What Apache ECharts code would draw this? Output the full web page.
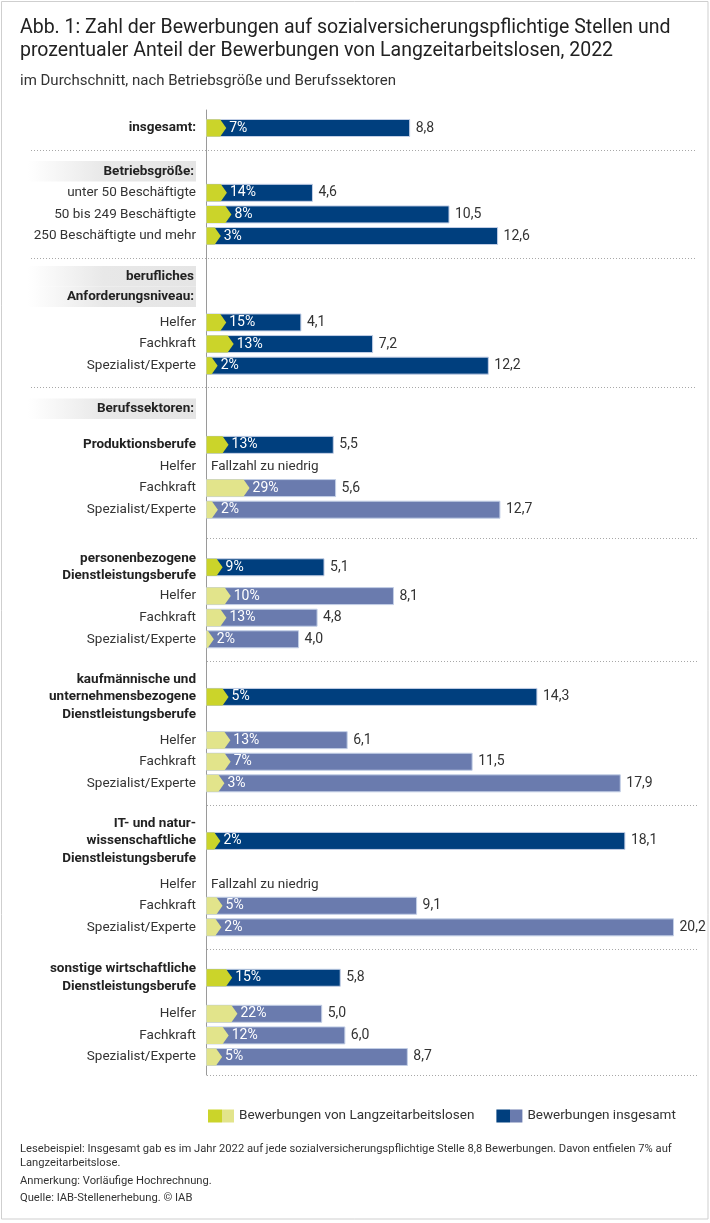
<!DOCTYPE html>
<html><head><meta charset="utf-8">
<script src="https://cdn.jsdelivr.net/npm/echarts@6/dist/echarts.min.js"></script>
<style>html,body{margin:0;padding:0;background:#fff}#c{width:710px;height:1223px}</style>
</head><body><div id="c"></div>
<script>
// ================= DATA =================
const titleLines = [
  'Abb. 1: Zahl der Bewerbungen auf sozialversicherungspflichtige Stellen und',
  'prozentualer Anteil der Bewerbungen von Langzeitarbeitslosen, 2022'
];
const subtitle = 'im Durchschnitt, nach Betriebsgröße und Berufssektoren';

const labelTotal = 'insgesamt:';
const totalAll = 8.8;
const shareAll = 7;

const headerLabels = ['Betriebsgröße:', 'berufliches\nAnforderungsniveau:', 'Berufssektoren:'];

const sizeLabels = ['unter 50 Beschäftigte', '50 bis 249 Beschäftigte', '250 Beschäftigte und mehr'];
const sizeTotals = [4.6, 10.5, 12.6];
const sizeShares = [14, 8, 3];

const levelLabels = ['Helfer', 'Fachkraft', 'Spezialist/Experte'];
const levelTotals = [4.1, 7.2, 12.2];
const levelShares = [15, 13, 2];

const sectorLabels = [
  'Produktionsberufe',
  'personenbezogene\nDienstleistungsberufe',
  'kaufmännische und\nunternehmensbezogene\nDienstleistungsberufe',
  'IT- und natur-\nwissenschaftliche\nDienstleistungsberufe',
  'sonstige wirtschaftliche\nDienstleistungsberufe'
];
const sectorTotals = [5.5, 5.1, 14.3, 18.1, 5.8];
const sectorShares = [13, 9, 5, 2, 15];
const helferTotals = [null, 8.1, 6.1, null, 5.0];
const helferShares = [null, 10, 13, null, 22];
const fachTotals = [5.6, 4.8, 11.5, 9.1, 6.0];
const fachShares = [29, 13, 7, 5, 12];
const spezTotals = [12.7, 4.0, 17.9, 20.2, 8.7];
const spezShares = [2, 2, 3, 2, 5];

const seriesNames = ['Bewerbungen von Langzeitarbeitslosen', 'Bewerbungen insgesamt'];
const noDataText = 'Fallzahl zu niedrig';
const footnotes = [
  'Lesebeispiel: Insgesamt gab es im Jahr 2022 auf jede sozialversicherungspflichtige Stelle 8,8 Bewerbungen. Davon entfielen 7% auf',
  'Langzeitarbeitslose.',
  'Anmerkung: Vorläufige Hochrechnung.',
  'Quelle: IAB-Stellenerhebung. © IAB'
];

// ================= LAYOUT (row slots on the category axis) =================
const SLOTS = 134;
const slotTotal = 2;
const slotHeaders = [8, 24, 41];
const slotSizes = [11, 14, 17];
const slotLevels = [29, 32, 35];
const slotSectors = [46, 63, 81, 101, 120];
const slotSubs = [[49, 52, 55], [67, 70, 73], [87, 90, 93], [107, 110, 113], [125, 128, 131]];
const slotSepFull = [5, 20, 38];
const slotSepPlot = [59, 76, 96, 116];

const FONT = 'Roboto, "Noto Sans", sans-serif';
const DARK_BLUE = '#003f7e';
const LIGHT_BLUE = '#6a7bae';
const DARK_GREEN = '#cbd42a';
const LIGHT_GREEN = '#e2e48b';
const BAR_H = 17;
const TIP = 6;

// ================= BUILD =================
const catKeys = [];
const catLabels = [];
for (let i = 0; i < SLOTS; i++) { catKeys.push('c' + i); catLabels.push(''); }
const rich = (text, st) => text.split('\n').map(l => '{' + st + '|' + l + '}').join('\n');

const barRows = [];
function addRow(slot, label, style, v, p, dark) {
  catLabels[slot] = rich(label, style);
  barRows.push({ slot, v, p, dark });
}
addRow(slotTotal, labelTotal, 'b', totalAll, shareAll, true);
headerLabels.forEach((h, i) => { catLabels[slotHeaders[i]] = rich(h, 'h'); });
sizeLabels.forEach((l, i) => addRow(slotSizes[i], l, 'n', sizeTotals[i], sizeShares[i], true));
levelLabels.forEach((l, i) => addRow(slotLevels[i], l, 'n', levelTotals[i], levelShares[i], true));
const subT = [helferTotals, fachTotals, spezTotals];
const subS = [helferShares, fachShares, spezShares];
sectorLabels.forEach((l, s) => {
  addRow(slotSectors[s], l, 'b', sectorTotals[s], sectorShares[s], true);
  levelLabels.forEach((ll, k) => addRow(slotSubs[s][k], ll, 'n', subT[k][s], subS[k][s], false));
});
const greenRows = barRows.filter(r => r.v != null);

const sepItems = slotSepFull.map(s => [0, s, 0])
  .concat(slotSepPlot.map(s => [0, s, 1]))
  .concat([[0, SLOTS - 1, 2]]);

const fmt = v => v.toFixed(1).replace('.', ',');

const chart = echarts.init(document.getElementById('c'), null, { renderer: 'canvas' });
const headerBg = {
  type: 'linear', x: 0, y: 0, x2: 1, y2: 0,
  colorStops: [{ offset: 0, color: 'rgba(255,255,255,1)' }, { offset: 0.45, color: '#e8e8e8' }, { offset: 1, color: '#e5e5e5' }]
};
const half = (a, b) => ({
  type: 'linear', x: 0, y: 0, x2: 1, y2: 0,
  colorStops: [{ offset: 0, color: a }, { offset: 0.52, color: a }, { offset: 0.52, color: b }, { offset: 1, color: b }]
});
const txt = (text, y, size, fill) => ({ type: 'text', silent: true,
  style: { text, x: 20, y, fontSize: size, fill, fontFamily: FONT, verticalAlign: 'middle', align: 'left' } });

chart.setOption({
  animation: false,
  textStyle: { fontFamily: FONT },
  grid: { left: 206, top: 110, width: 486, height: 965 },
  xAxis: { type: 'value', min: 0, max: 21, show: false },
  yAxis: {
    type: 'category', inverse: true, data: catKeys,
    axisLine: { show: true, lineStyle: { color: '#9a9a9a', width: 1 } },
    axisTick: { show: false }, splitLine: { show: false },
    axisLabel: {
      interval: 0, margin: 10,
      formatter: (v, i) => catLabels[i],
      rich: {
        n: { fontSize: 13.5, color: '#333', fontFamily: FONT, lineHeight: 17 },
        b: { fontSize: 13.5, color: '#222', fontWeight: 'bold', fontFamily: FONT, lineHeight: 17.5 },
        h: { fontSize: 13.5, color: '#222', fontWeight: 'bold', fontFamily: FONT, lineHeight: 20.5, height: 20.5,
             width: 166, align: 'right', padding: [0, 2, 0, 0], backgroundColor: headerBg }
      }
    }
  },
  legend: {
    left: 203, top: 1104, itemWidth: 26, itemHeight: 13, itemGap: 22, icon: 'rect',
    selectedMode: false,
    textStyle: { fontSize: 13.5, color: '#333', fontFamily: FONT },
    data: [
      { name: seriesNames[0], itemStyle: { color: half(DARK_GREEN, LIGHT_GREEN) } },
      { name: seriesNames[1], itemStyle: { color: half(DARK_BLUE, LIGHT_BLUE) } }
    ]
  },
  graphic: [
    { type: 'rect', silent: true, shape: { x: 1.5, y: 1.5, width: 706.5, height: 1217.5 }, style: { fill: null, stroke: '#cfcfcf', lineWidth: 1 } },
    txt(titleLines[0], 28, 19.5, '#222'),
    txt(titleLines[1], 51, 19.5, '#222'),
    txt(subtitle, 81, 15, '#333'),
    txt(footnotes[0], 1149, 11.2, '#333'),
    txt(footnotes[1], 1163, 11.2, '#333'),
    txt(footnotes[2], 1181, 11.2, '#333'),
    txt(footnotes[3], 1198, 11.2, '#333')
  ],
  series: [
    {
      type: 'custom', name: 'sep', silent: true, z: 1, legendHoverLink: false,
      data: sepItems, encode: { x: 0, y: 1 },
      renderItem: (params, api) => {
        const kind = api.value(2);
        const c = api.coord([0, api.value(1)]);
        const r = api.coord([21, api.value(1)]);
        let y = c[1];
        if (kind === 2) y = c[1] + api.size([0, 1])[1] / 2;
        const x0 = kind === 0 ? c[0] - 175 : c[0] + 1;
        return { type: 'line', shape: { x1: x0, y1: Math.round(y) + 0.5, x2: r[0] + 5, y2: Math.round(y) + 0.5 },
                 style: { stroke: '#a8a8a8', lineWidth: 1, lineDash: [1, 2] } };
      }
    },
    {
      type: 'custom', name: seriesNames[1], z: 2,
      itemStyle: { color: DARK_BLUE },
      data: barRows.map(r => [r.v == null ? 0 : r.v, r.slot]),
      encode: { x: 0, y: 1 },
      renderItem: (params, api) => {
        const row = barRows[params.dataIndex];
        const cat = api.value(1);
        const p0 = api.coord([0, cat]);
        if (row.v == null) {
          return { type: 'text', style: { text: noDataText, x: p0[0] + 5, y: p0[1], verticalAlign: 'middle', align: 'left',
                   fill: '#333', fontSize: 13.5, fontFamily: FONT } };
        }
        const p1 = api.coord([api.value(0), cat]);
        return { type: 'group', children: [
          { type: 'rect', shape: { x: p0[0] + 0.5, y: p0[1] - BAR_H / 2, width: p1[0] - p0[0] - 0.5, height: BAR_H },
            style: { fill: row.dark ? DARK_BLUE : LIGHT_BLUE, stroke: '#c3cfe6', lineWidth: 1 } },
          { type: 'text', style: { text: fmt(api.value(0)), x: p1[0] + 6, y: p1[1], verticalAlign: 'middle', align: 'left',
            fill: '#333', fontSize: 14, fontFamily: FONT } }
        ] };
      }
    },
    {
      type: 'custom', name: seriesNames[0], z: 3,
      itemStyle: { color: DARK_GREEN },
      data: greenRows.map(r => [r.v * r.p / 100, r.slot, r.p]),
      encode: { x: 0, y: 1 },
      renderItem: (params, api) => {
        const row = greenRows[params.dataIndex];
        const cat = api.value(1);
        const p0 = api.coord([0, cat]);
        const g = api.coord([api.value(0), cat])[0];
        const t = p0[1] - BAR_H / 2, b = p0[1] + BAR_H / 2;
        return { type: 'group', children: [
          { type: 'polygon', shape: { points: [[p0[0] + 0.5, t], [g, t], [g + TIP, p0[1]], [g, b], [p0[0] + 0.5, b]] },
            style: { fill: row.dark ? DARK_GREEN : LIGHT_GREEN } },
          { type: 'text', style: { text: api.value(2) + '%', x: g + TIP + 3, y: p0[1], verticalAlign: 'middle', align: 'left',
            fill: '#fff', fontSize: 14, fontFamily: FONT } }
        ] };
      }
    }
  ]
});
</script></body></html>
